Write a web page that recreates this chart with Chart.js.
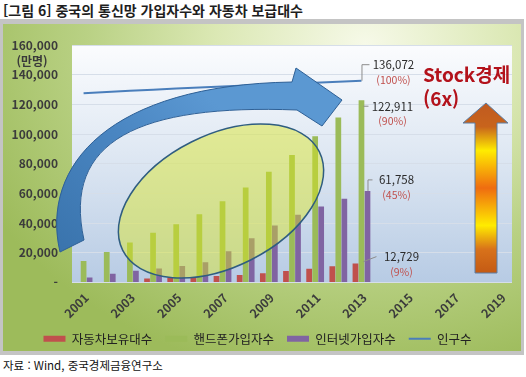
<!DOCTYPE html>
<html lang="ko">
<head>
<meta charset="utf-8">
<script src="https://cdn.jsdelivr.net/npm/chart.js@4.4.1/dist/chart.umd.min.js"></script>
<style>
  html, body { margin:0; padding:0; background:#fff; }
  body { width:526px; height:377px; position:relative; overflow:hidden;
         font-family:"Noto Sans CJK KR","Noto Sans",sans-serif; }
  #title  { position:absolute; left:3px; top:0px; font-size:14px; font-weight:bold;
            color:#1e1e1e; white-space:nowrap; }
  #frame  { position:absolute; left:0; top:19px; width:524px; height:336px; background:#c4c4c4; }
  #panel  { position:absolute; left:3px; top:24px; width:518px; height:327px;
            background:radial-gradient(ellipse 430px 340px at 70% 6%,
              #f6f9e8 0%, #dbe8b4 35%, #b9d184 65%, #9dbb5b 100%); }
  #chartBox { position:absolute; left:3px; top:24px; width:518px; height:331px; }
  #source { position:absolute; left:3px; top:357px; font-size:11.5px; color:#111; white-space:nowrap; }
</style>
</head>
<body>
<div id="title">[그림 6] 중국의 통신망 가입자수와 자동차 보급대수</div>
<div id="frame"></div>
<div id="panel"></div>
<div id="chartBox"><canvas id="chart" width="518" height="331"></canvas></div>
<div id="source">자료 : Wind, 중국경제금융연구소</div>

<script>
/* ---------- data (만명 / 만대) ---------- */
const years      = ["2001","2002","2003","2004","2005","2006","2007","2008","2009","2010",
                    "2011","2012","2013","2014","2015","2016","2017","2018","2019"];
const cars       = [null, null, null, 2700, 3150, 3650, 4300, 5000, 6250, 7750, 9350, 10950, 12729];
const phones     = [14500, 20600, 27000, 33500, 39300, 46100, 54700, 64100, 74700, 85900, 98600, 111200, 122911];
const internet   = [3370, 5900, 7950, 9400, 11100, 13700, 21000, 29800, 38400, 45700, 51300, 56400, 61758];
const population = [127627, 128453, 129227, 129988, 130756, 131448, 132129, 132802, 133450, 134091, 134735, 135404, 136072];
const seriesNames = ["자동차보유대수", "핸드폰가입자수", "인터넷가입자수", "인구수"];
const yTicks     = [0, 20000, 40000, 60000, 80000, 100000, 120000, 140000, 160000];

const FONT = "'Noto Sans CJK KR','Noto Sans',sans-serif";
Chart.defaults.font.family = FONT;

/* ---------- plot background ---------- */
const plotBg = {
  id: "plotBg",
  beforeDraw(chart) {
    const { ctx, chartArea: a } = chart;
    const g = ctx.createLinearGradient(0, a.top, 0, a.bottom);
    g.addColorStop(0, "#fbfcfe");
    g.addColorStop(0.45, "#dfe8f3");
    g.addColorStop(1, "#b7cbe4");
    ctx.save();
    ctx.fillStyle = g;
    ctx.fillRect(a.left, a.top, a.right - a.left, a.bottom - a.top);
    ctx.restore();
  }
};

/* ---------- overlays: ellipse, arrows, value labels ---------- */
const lastIdx = arr => { let i = arr.length - 1; while (i >= 0 && arr[i] == null) i--; return i; };

const overlays = {
  id: "overlays",
  afterDatasetsDraw(chart) {
    const { ctx } = chart;
    const ys = chart.scales.y;
    ctx.save();
    // work in page coordinates (canvas sits at 3,24)
    ctx.translate(-3, -24);

    // highlight ellipse
    ctx.save();
    ctx.translate(221, 201);
    ctx.rotate(-26.7 * Math.PI / 180);
    ctx.beginPath();
    ctx.ellipse(0, 0, 110, 66, 0, 0, Math.PI * 2);
    ctx.fillStyle = "rgba(220,230,30,0.45)";
    ctx.fill();
    ctx.lineWidth = 1.5;
    ctx.strokeStyle = "#2f5d80";
    ctx.stroke();
    ctx.restore();

    // big blue curved arrow
    ctx.beginPath();
    ctx.moveTo(60, 252);
    ctx.bezierCurveTo(40, 165, 110, 85, 292, 82);
    ctx.lineTo(296, 68);
    ctx.lineTo(342, 100);
    ctx.lineTo(322, 126);
    ctx.lineTo(297, 110);
    ctx.bezierCurveTo(140, 104, 62, 140, 84, 240);
    ctx.closePath();
    const bg = ctx.createLinearGradient(60, 250, 200, 90);
    bg.addColorStop(0, "#3a74ad");
    bg.addColorStop(0.6, "#4a86c2");
    bg.addColorStop(1, "#5b98d2");
    ctx.fillStyle = bg;
    ctx.fill();
    ctx.lineWidth = 1;
    ctx.strokeStyle = "#2e6096";
    ctx.stroke();

    // orange/yellow up arrow
    ctx.beginPath();
    ctx.moveTo(486, 103);
    ctx.lineTo(508, 123);
    ctx.lineTo(497, 123);
    ctx.lineTo(497, 273);
    ctx.lineTo(475, 273);
    ctx.lineTo(475, 123);
    ctx.lineTo(463, 123);
    ctx.closePath();
    const og = ctx.createLinearGradient(0, 103, 0, 273);
    og.addColorStop(0, "#c05a20");
    og.addColorStop(0.14, "#c8641c");
    og.addColorStop(0.28, "#ffec00");
    og.addColorStop(0.5, "#ef6c10");
    og.addColorStop(0.72, "#ffec00");
    og.addColorStop(0.86, "#d8721a");
    og.addColorStop(1, "#c45a14");
    ctx.fillStyle = og;
    ctx.fill();
    ctx.strokeStyle = "#5b7fa6";
    ctx.stroke();

    ctx.fillStyle = "#b3121b";
    ctx.font = "bold 19px " + FONT;
    ctx.textAlign = "left";
    ctx.textBaseline = "alphabetic";
    ctx.fillText("Stock경제", 423, 82);
    ctx.fillText("(6x)", 423, 106);
    ctx.restore();

    // value labels at the last data point of each series
    const pop = population[lastIdx(population)];
    const lab = [
      { ds: 3, arr: population, dx: 32, dy: -16, lead: "up" },
      { ds: 1, arr: phones,     dx: 31, dy: 6,   lead: "flat" },
      { ds: 2, arr: internet,   dx: 29, dy: -11, lead: "up" },
      { ds: 0, arr: cars,       dx: 46, dy: -7,  lead: "diag" }
    ];
    ctx.save();
    ctx.textAlign = "center";
    ctx.textBaseline = "middle";
    lab.forEach(l => {
      const i = lastIdx(l.arr);
      const el = chart.getDatasetMeta(l.ds).data[i];
      const x = el.x, y = el.y;
      const tx = x + l.dx, ty = y + l.dy;
      ctx.strokeStyle = "#8c8c8c";
      ctx.lineWidth = 1;
      ctx.beginPath();
      if (l.lead === "up") {
        ctx.moveTo(x + 0.5, y);
        ctx.lineTo(x + 0.5, ty);
        ctx.lineTo(tx - 24, ty);
      } else if (l.lead === "flat") {
        ctx.moveTo(x + 2, ty);
        ctx.lineTo(tx - 24, ty);
      } else {
        ctx.moveTo(x + 8, y - 2);
        ctx.lineTo(tx - 25, ty);
      }
      ctx.stroke();
      ctx.fillStyle = "#2b2b2b";
      ctx.font = "11.5px " + FONT;
      ctx.fillText(l.arr[i].toLocaleString("en-US"), tx, ty);
      ctx.fillStyle = "#c0504d";
      ctx.font = "10.5px " + FONT;
      ctx.fillText("(" + Math.round(l.arr[i] / pop * 100) + "%)", tx, ty + 15);
    });

    // unit label under the top tick
    ctx.fillStyle = "#3a3a3a";
    ctx.font = "bold 12px " + FONT;
    ctx.fillText("(만명)", 29, ys.getPixelForValue(160000) + 16);
    ctx.restore();
  }
};

new Chart(document.getElementById("chart"), {
  type: "bar",
  data: {
    labels: years,
    datasets: [
      { label: seriesNames[0], data: cars,     backgroundColor: "#c0504d", pointStyle: "rect",
        categoryPercentage: 0.78, barPercentage: 0.95 },
      { label: seriesNames[1], data: phones,   backgroundColor: "#9bbb59", pointStyle: "rect",
        categoryPercentage: 0.78, barPercentage: 0.95 },
      { label: seriesNames[2], data: internet, backgroundColor: "#8064a2", pointStyle: "rect",
        categoryPercentage: 0.78, barPercentage: 0.95 },
      { label: seriesNames[3], data: population, type: "line", borderColor: "#4a7ebb",
        backgroundColor: "#4a7ebb", borderWidth: 2, pointRadius: 0, pointStyle: "line", tension: 0 }
    ]
  },
  options: {
    responsive: false,
    animation: false,
    layout: { padding: { top: 14, right: 9, left: 0, bottom: 0 } },
    plugins: {
      tooltip: { enabled: false },
      legend: {
        position: "bottom",
        labels: {
          usePointStyle: true, pointStyleWidth: 22, boxHeight: 6,
          padding: 13, color: "#222", font: { size: 12.5, family: FONT }
        }
      }
    },
    scales: {
      x: {
        grid: { display: false },
        border: { display: false },
        ticks: {
          autoSkip: false, maxRotation: 45, minRotation: 45, padding: 0, labelOffset: 3,
          color: "#3c3c3c", font: { size: 12, weight: "bold" },
          callback: (v, i) => (i % 2 === 0 ? years[i] : "")
        },
        afterFit: s => { s.height = 37; }
      },
      y: {
        min: 0, max: 160000,
        afterBuildTicks: s => { s.ticks = yTicks.map(v => ({ value: v })); },
        grid: { color: "#d6dee9", drawTicks: false },
        border: { display: false },
        ticks: {
          padding: 14, color: "#3c3c3c", font: { size: 12, weight: "bold" },
          callback: v => (v === 0 ? "-" : v.toLocaleString("en-US"))
        },
        afterFit: s => { s.width = 69; }
      }
    }
  },
  plugins: [plotBg, overlays]
});
</script>
</body>
</html>
